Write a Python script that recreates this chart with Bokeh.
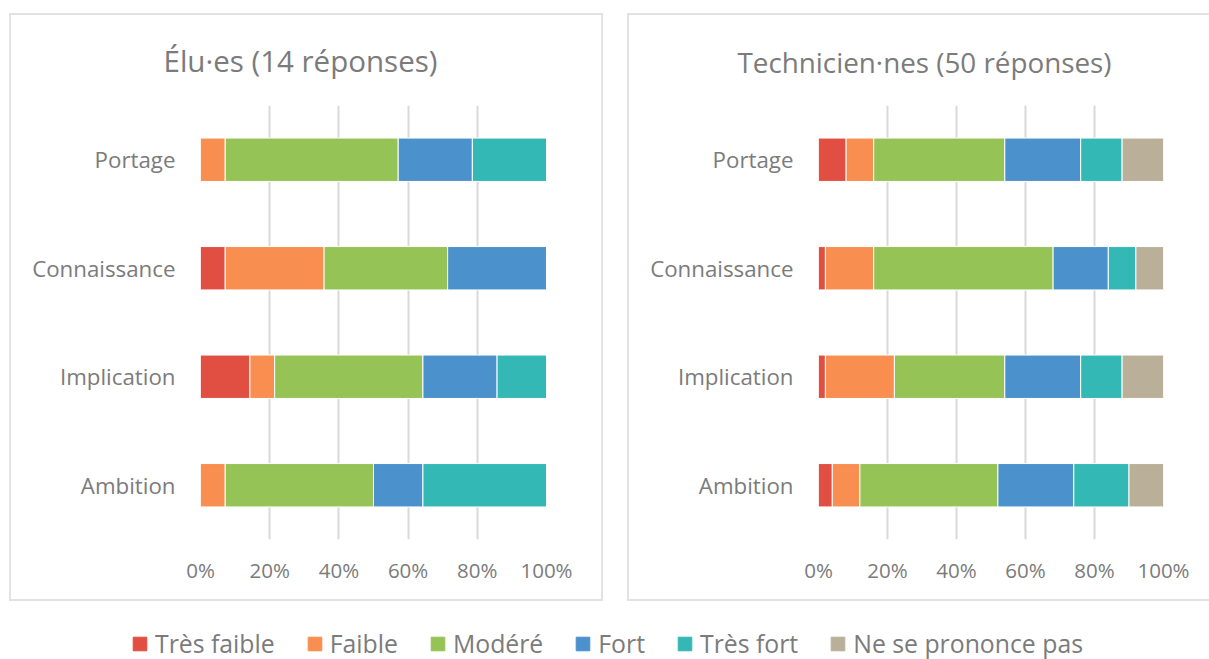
from bokeh.plotting import figure
from bokeh.models import (ColumnDataSource, FactorRange, Range1d, NumeralTickFormatter,
                          FixedTicker, Legend, LegendItem)
from bokeh.layouts import column, row
from bokeh.embed import file_html
from bokeh.resources import INLINE

# ---------------- data ----------------
categories = ["Ambition", "Implication", "Connaissance", "Portage"]  # bottom -> top
levels = ["Très faible", "Faible", "Modéré", "Fort", "Très fort", "Ne se prononce pas"]
keys = ["tres_faible", "faible", "modere", "fort", "tres_fort", "nsp"]
colors = ["#E14F42", "#F88E4F", "#95C355", "#4B91CC", "#33B8B5", "#BAAF98"]

elus_title = "Élu·es (14 réponses)"
elus_total = 14
elus_tres_faible = [0, 2, 1, 0]
elus_faible = [1, 1, 4, 1]
elus_modere = [6, 6, 5, 7]
elus_fort = [2, 3, 4, 3]
elus_tres_fort = [5, 2, 0, 3]
elus_nsp = [0, 0, 0, 0]

tech_title = "Technicien·nes (50 réponses)"
tech_total = 50
tech_tres_faible = [2, 1, 1, 4]
tech_faible = [4, 10, 7, 4]
tech_modere = [20, 16, 26, 19]
tech_fort = [11, 11, 8, 11]
tech_tres_fort = [8, 6, 4, 6]
tech_nsp = [5, 6, 4, 6]

x_ticks = [0, 0.2, 0.4, 0.6, 0.8, 1.0]

FONT = "Open Sans"
TXT = "#7b7b7b"


def make_panel(title, series, total, width, mb_right, title_offset, title_size, styles):
    data = {"cat": categories}
    for k, vals in zip(keys, series):
        data[k] = [v / total for v in vals]
    src = ColumnDataSource(data)
    p = figure(width=width, height=588, y_range=FactorRange(*categories, range_padding=0),
               x_range=Range1d(0, 1), output_backend="svg", toolbar_location=None,
               min_border_left=189, min_border_right=mb_right,
               min_border_top=90, min_border_bottom=64)
    p.hbar_stack(keys, y="cat", height=0.4, color=colors, line_color="white",
                 line_width=1, source=src)
    p.title.text = title
    p.title.align = "left"
    p.title.vertical_align = "top"
    p.title.offset = title_offset
    p.title.standoff = 45
    p.title.text_font = FONT
    p.title.text_font_size = title_size
    p.title.text_font_style = "normal"
    p.title.text_color = TXT
    p.outline_line_color = None
    p.ygrid.grid_line_color = None
    p.xgrid.grid_line_color = "#d9d9d9"
    p.xgrid.grid_line_width = 2
    p.xaxis.ticker = FixedTicker(ticks=x_ticks)
    p.xaxis.formatter = NumeralTickFormatter(format="0%")
    for ax in (p.xaxis[0], p.yaxis[0]):
        ax.axis_line_color = None
        ax.major_tick_line_color = None
        ax.minor_tick_line_color = None
        ax.major_tick_out = 0
        ax.major_tick_in = 0
        ax.major_label_text_font = FONT
        ax.major_label_text_color = TXT
    p.xaxis.major_label_text_font_size = "20.5px"
    p.xaxis.major_label_standoff = 16
    p.yaxis.major_label_text_font_size = "22.3px"
    p.yaxis.major_label_standoff = 25
    p.styles = styles
    return p


B = "2px solid #e2e2e2"
p1 = make_panel(elus_title,
                [elus_tres_faible, elus_faible, elus_modere, elus_fort, elus_tres_fort, elus_nsp],
                elus_total, 594, 59, -37, "29.5px",
                {"border": B, "box-sizing": "border-box"})
p1.margin = (13, 0, 0, 9)
p2 = make_panel(tech_title,
                [tech_tres_faible, tech_faible, tech_modere, tech_fort, tech_tres_fort, tech_nsp],
                tech_total, 582, 48, -81, "27.8px",
                {"border-top": B, "border-left": B, "border-bottom": B,
                 "box-sizing": "border-box"})
p2.margin = (13, 0, 0, 24)

# legend figure
pl = figure(width=1209, height=58, x_range=Range1d(0, 1), y_range=Range1d(0, 1),
            output_backend="svg", toolbar_location=None, x_axis_type=None, y_axis_type=None,
            min_border=0)
pl.outline_line_color = None
pl.xgrid.grid_line_color = None
pl.ygrid.grid_line_color = None
items = []
for lab, c in zip(levels, colors):
    # off-range placeholder renderer: only its legend swatch is seen
    r = pl.hbar(y=[-5], left=[0], right=[0.1], height=0.1, fill_color=c, line_color=c)
    items.append(LegendItem(label=lab, renderers=[r]))
leg = Legend(items=items, orientation="horizontal", location=(131, -1),
             glyph_width=17, glyph_height=17, label_standoff=7, spacing=31,
             label_text_font=FONT, label_text_font_size="24.8px", label_text_color=TXT,
             padding=0, margin=0, border_line_color=None, background_fill_alpha=0)
pl.add_layout(leg, "center")

layout = column(row(p1, p2), pl)
open("out.html", "w").write(file_html(layout, INLINE))
